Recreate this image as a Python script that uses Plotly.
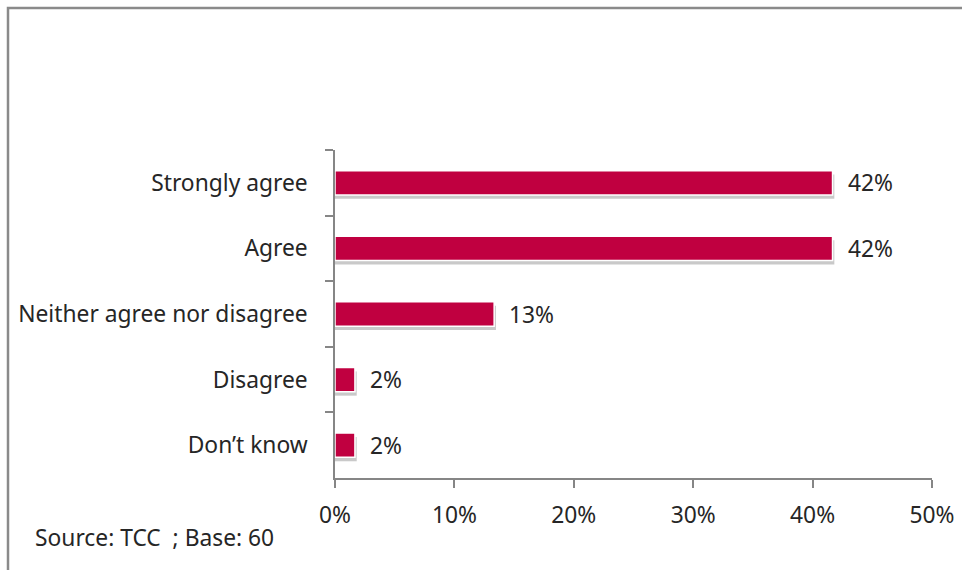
import plotly.graph_objects as go

categories = ["Strongly agree", "Agree", "Neither agree nor disagree", "Disagree", "Don\u2019t know"]
values = [41.67, 41.67, 13.33, 1.67, 1.67]
labels = ["42%", "42%", "13%", "2%", "2%"]
x_ticks = [0, 10, 20, 30, 40, 50]
x_tick_labels = ["0%", "10%", "20%", "30%", "40%", "50%"]
source_text = "Source: TCC  ; Base: 60"

FONT = "Noto Sans"
FS = 22.8
TXT = "#262626"
AX = "#868686"
BAR = "#C00040"

L, R, T, B = 335, 30, 150, 92
W, H = 962, 570
pw, ph = W - L - R, H - T - B
def px(x):
    return (x - L) / pw
def py(y):
    return (H - B - y) / ph

fig = go.Figure()
# soft shadow
fig.add_trace(go.Bar(
    y=categories, x=[v + 0.15 for v in values], orientation="h",
    width=0.37, offset=-0.185 + 0.06,
    marker=dict(color="rgba(120,120,120,0.4)", line=dict(width=0)),
    hoverinfo="skip", showlegend=False,
))
fig.add_trace(go.Bar(
    y=categories, x=values, orientation="h",
    width=0.37, offset=-0.185,
    marker=dict(color=BAR, line=dict(color="white", width=1.5)),
    showlegend=False,
))

for c, v, t in zip(categories, values, labels):
    fig.add_annotation(x=v, y=c, text=t, xanchor="left", yanchor="middle",
                       xshift=13, showarrow=False,
                       font=dict(family=FONT, size=FS, color=TXT))

fig.add_annotation(x=px(33), y=py(537), xref="paper", yref="paper", text=source_text,
                   xanchor="left", yanchor="middle", showarrow=False,
                   font=dict(family=FONT, size=FS, color=TXT))

fig.add_shape(type="path",
              path=f"M {px(8)} {py(H+20)} L {px(8)} {py(8)} L {px(W+20)} {py(8)}",
              xref="paper", yref="paper", line=dict(color="#8a8a8a", width=2.5))

fig.update_layout(
    width=W, height=H, margin=dict(l=L, r=R, t=T, b=B, autoexpand=False),
    paper_bgcolor="white", plot_bgcolor="white",
    barmode="overlay", bargap=0.63,
    font=dict(family=FONT, size=FS, color=TXT),
    xaxis=dict(range=[0, 50], tickvals=x_ticks, ticktext=x_tick_labels,
               showgrid=False, zeroline=False, showline=True, linecolor=AX, linewidth=1.5,
               ticks="outside", ticklen=8, tickcolor=AX, tickwidth=1.5,
               ticklabelstandoff=8, fixedrange=True),
    yaxis=dict(type="category", categoryorder="array", categoryarray=categories,
               autorange="reversed", showgrid=False, zeroline=False,
               showline=True, linecolor=AX, linewidth=1.5,
               ticks="outside", ticklen=8, tickcolor=AX, tickwidth=1.5,
               tickson="boundaries", ticklabelstandoff=21, fixedrange=True),
)

fig.write_html("out.html")
